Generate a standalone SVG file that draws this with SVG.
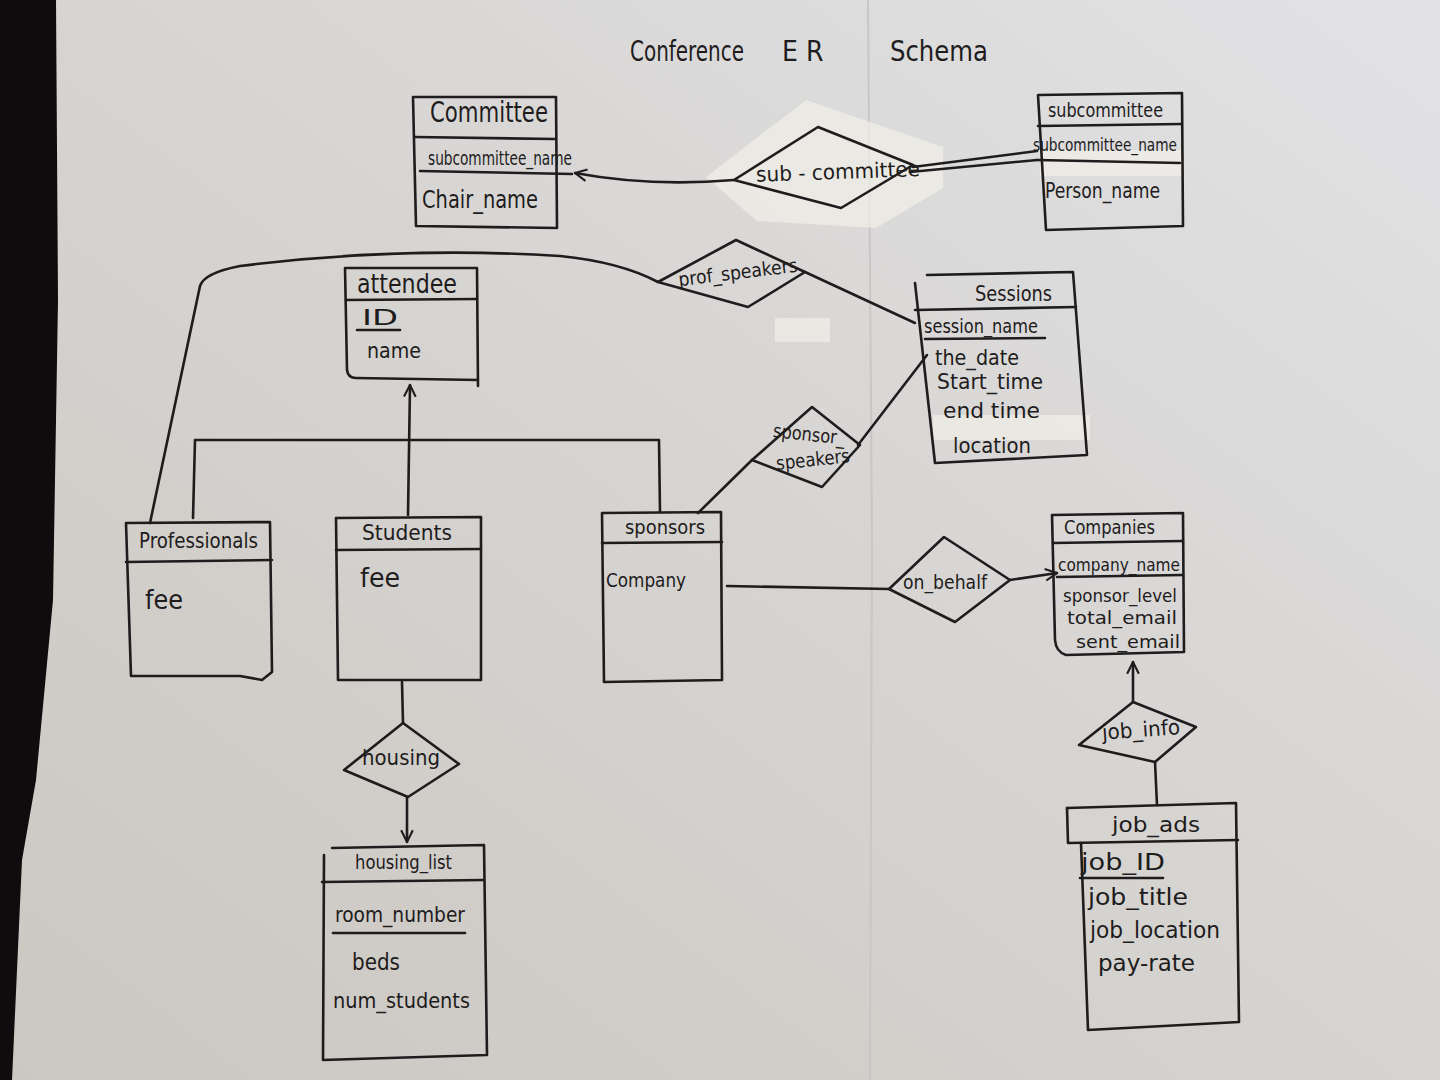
<svg xmlns="http://www.w3.org/2000/svg" width="1440" height="1080" viewBox="0 0 1440 1080">
<defs>
<linearGradient id="paper" x1="0" y1="1" x2="1" y2="0">
<stop offset="0" stop-color="#cbc7c1"/>
<stop offset="0.5" stop-color="#d6d4d1"/>
<stop offset="1" stop-color="#e2e2e5"/>
</linearGradient>
<marker id="open" viewBox="0 0 12 12" refX="11" refY="6" markerWidth="14" markerHeight="14" markerUnits="userSpaceOnUse" orient="auto">
<path d="M1,1 L11,6 L1,11" fill="none" stroke="#1e1c1c" stroke-width="1.8"/>
</marker>
<style>
.ink{fill:none;stroke:#1e1c1c;stroke-width:2.6;stroke-linecap:round;stroke-linejoin:round}
.t{font-family:"Liberation Sans Narrow","DejaVu Sans Condensed","Liberation Sans",sans-serif;fill:#1e1c1c}
.tape{fill:#f3f1ea;opacity:0.65}
</style>
</defs>
<rect width="1440" height="1080" fill="url(#paper)"/>
<path d="M868,0 L872,540 L870,1080" stroke="#c9c7c5" stroke-width="2" fill="none"/>
<path d="M0,0 L56,0 L58,300 L53,600 L36,780 L22,860 L12,1080 L0,1080 Z" fill="#0e0c0c"/>

<g id="title">
<text class="t" x="630" y="61" font-size="28" textLength="114" lengthAdjust="spacingAndGlyphs">Conference</text>
<text class="t" x="782" y="61" font-size="28" letter-spacing="8">ER</text>
<text class="t" x="890" y="61" font-size="28" textLength="98" lengthAdjust="spacingAndGlyphs">Schema</text>
</g>

<g id="tapes">
<path class="tape" d="M706,177 L806,100 L943,147 L943,188 L876,228 L757,221 Z"/>
<rect class="tape" x="1040" y="150" width="142" height="26"/>
<rect class="tape" x="933" y="415" width="157" height="25"/>
<rect class="tape" x="775" y="318" width="55" height="24" opacity="0.5"/>
</g>

<g id="connectors">
<path class="ink" d="M734,180 Q650,187 575,173" marker-end="url(#open)"/>
<path class="ink" d="M913,167 L1037,151"/>
<path class="ink" d="M910,172 L1037,160"/>
<path class="ink" d="M150,523 L200,286 Q204,273 240,266 Q400,246 560,256 Q620,262 658,282"/>
<path class="ink" d="M805,272 L915,323"/>
<path class="ink" d="M193,518 L195,440 L659,440 L660,512"/>
<path class="ink" d="M408,515 L410,385" marker-end="url(#open)"/>
<path class="ink" d="M858,445 L927,355"/>
<path class="ink" d="M752,460 L698,513"/>
<path class="ink" d="M402,682 L403,723"/>
<path class="ink" d="M407,797 L407,842" marker-end="url(#open)"/>
<path class="ink" d="M727,586 L889,589"/>
<path class="ink" d="M1010,580 L1057,573" marker-end="url(#open)"/>
<path class="ink" d="M1133,702 L1133,662" marker-end="url(#open)"/>
<path class="ink" d="M1155,762 L1157,805"/>
</g>

<g id="committee">
<path class="ink" d="M413,97 L556,97 L557,228 L416,226 Z"/>
<path class="ink" d="M415,137 L555,139"/>
<path class="ink" d="M420,171 L572,174"/>
<text class="t" x="430" y="122" font-size="28" textLength="118" lengthAdjust="spacingAndGlyphs">Committee</text>
<text class="t" x="428" y="165" font-size="19" textLength="144" lengthAdjust="spacingAndGlyphs">subcommittee_name</text>
<text class="t" x="422" y="208" font-size="24" textLength="116" lengthAdjust="spacingAndGlyphs">Chair_name</text>
</g>

<g id="rel-sub-committee">
<path class="ink" d="M734,180 L818,127 L913,165 L841,208 Z"/>
<text class="t" x="756" y="179" font-size="21" textLength="164" lengthAdjust="spacingAndGlyphs" transform="rotate(-2 838 172)">sub - committee</text>
</g>

<g id="subcommittee">
<path class="ink" d="M1038,95 L1182,93 L1183,226 L1046,230 Z"/>
<path class="ink" d="M1038,126 L1181,124"/>
<path class="ink" d="M1037,160 L1180,163"/>
<text class="t" x="1048" y="117" font-size="20" textLength="115" lengthAdjust="spacingAndGlyphs">subcommittee</text>
<text class="t" x="1033" y="151" font-size="17" textLength="144" lengthAdjust="spacingAndGlyphs">subcommittee_name</text>
<text class="t" x="1045" y="198" font-size="21" textLength="115" lengthAdjust="spacingAndGlyphs">Person_name</text>
</g>

<g id="rel-prof-speakers">
<path class="ink" d="M658,282 L736,240 L805,272 L748,307 Z"/>
<text class="t" x="678" y="279" font-size="19" textLength="120" lengthAdjust="spacingAndGlyphs" transform="rotate(-7 738 273)">prof_speakers</text>
</g>

<g id="attendee">
<path class="ink" d="M345,268 L477,268 L478,386 M345,268 L347,370 Q348,378 356,378 L478,380"/>
<path class="ink" d="M346,300 L477,299"/>
<path class="ink" d="M357,330 L400,330"/>
<text class="t" x="357" y="293" font-size="26" textLength="100" lengthAdjust="spacingAndGlyphs">attendee</text>
<text class="t" x="362" y="325" font-size="22" textLength="36" lengthAdjust="spacingAndGlyphs">ID</text>
<text class="t" x="367" y="358" font-size="22" textLength="54" lengthAdjust="spacingAndGlyphs">name</text>
</g>

<g id="sessions">
<path class="ink" d="M927,275 L1073,272 L1087,455 L935,463 L915,283"/>
<path class="ink" d="M915,310 L1076,307"/>
<path class="ink" d="M925,339 L1045,338"/>
<text class="t" x="975" y="301" font-size="22" textLength="77" lengthAdjust="spacingAndGlyphs">Sessions</text>
<text class="t" x="924" y="333" font-size="19" textLength="114" lengthAdjust="spacingAndGlyphs">session_name</text>
<text class="t" x="935" y="365" font-size="21" textLength="84" lengthAdjust="spacingAndGlyphs">the_date</text>
<text class="t" x="937" y="389" font-size="21" textLength="106" lengthAdjust="spacingAndGlyphs">Start_time</text>
<text class="t" x="943" y="418" font-size="21" textLength="97" lengthAdjust="spacingAndGlyphs">end time</text>
<text class="t" x="953" y="453" font-size="21" textLength="78" lengthAdjust="spacingAndGlyphs">location</text>
</g>

<g id="rel-sponsor-speakers">
<path class="ink" d="M752,460 L812,407 L860,445 L822,487 Z"/>
<text class="t" x="773" y="441" font-size="19" textLength="72" lengthAdjust="spacingAndGlyphs" transform="rotate(6 810 435)">sponsor_</text>
<text class="t" x="776" y="466" font-size="19" textLength="74" lengthAdjust="spacingAndGlyphs" transform="rotate(-6 814 460)">speakers</text>
</g>

<g id="professionals">
<path class="ink" d="M126,523 L270,522 L272,672 L262,680 L240,676 L131,676 Z"/>
<path class="ink" d="M126,562 L272,560"/>
<text class="t" x="139" y="548" font-size="21" textLength="119" lengthAdjust="spacingAndGlyphs">Professionals</text>
<text class="t" x="145" y="609" font-size="26" textLength="38" lengthAdjust="spacingAndGlyphs">fee</text>
</g>

<g id="students">
<path class="ink" d="M336,518 L481,517 L481,680 L338,680 Z"/>
<path class="ink" d="M336,550 L481,549"/>
<text class="t" x="362" y="540" font-size="22" textLength="90" lengthAdjust="spacingAndGlyphs">Students</text>
<text class="t" x="360" y="587" font-size="26" textLength="40" lengthAdjust="spacingAndGlyphs">fee</text>
</g>

<g id="sponsors">
<path class="ink" d="M602,513 L721,512 L722,680 L604,682 Z"/>
<path class="ink" d="M602,543 L722,542"/>
<text class="t" x="625" y="534" font-size="20" textLength="80" lengthAdjust="spacingAndGlyphs">sponsors</text>
<text class="t" x="606" y="587" font-size="20" textLength="80" lengthAdjust="spacingAndGlyphs">Company</text>
</g>

<g id="rel-on-behalf">
<path class="ink" d="M889,589 L944,537 L1010,580 L955,622 Z"/>
<text class="t" x="903" y="589" font-size="19" textLength="84" lengthAdjust="spacingAndGlyphs">on_behalf</text>
</g>

<g id="companies">
<path class="ink" d="M1052,515 L1183,513 L1184,652 L1066,655 Q1056,652 1055,640 Z"/>
<path class="ink" d="M1053,543 L1183,541"/>
<path class="ink" d="M1057,577 L1183,575"/>
<text class="t" x="1064" y="534" font-size="20" textLength="91" lengthAdjust="spacingAndGlyphs">Companies</text>
<text class="t" x="1058" y="571" font-size="17" textLength="122" lengthAdjust="spacingAndGlyphs">company_name</text>
<text class="t" x="1063" y="602" font-size="17" textLength="114" lengthAdjust="spacingAndGlyphs">sponsor_level</text>
<text class="t" x="1067" y="624" font-size="17" textLength="110" lengthAdjust="spacingAndGlyphs">total_email</text>
<text class="t" x="1076" y="648" font-size="17" textLength="104" lengthAdjust="spacingAndGlyphs">sent_email</text>
</g>

<g id="rel-job-info">
<path class="ink" d="M1079,745 L1133,702 L1196,727 L1155,762 Z"/>
<text class="t" x="1102" y="737" font-size="21" textLength="78" lengthAdjust="spacingAndGlyphs" transform="rotate(-4 1140 730)">job_info</text>
</g>

<g id="job-ads">
<path class="ink" d="M1067,808 L1236,803 L1239,1022 L1088,1030 L1081,843"/>
<path class="ink" d="M1067,808 L1068,843 L1238,840"/>
<path class="ink" d="M1080,878 L1163,878"/>
<text class="t" x="1112" y="832" font-size="22" textLength="88" lengthAdjust="spacingAndGlyphs">job_ads</text>
<text class="t" x="1081" y="870" font-size="23" textLength="84" lengthAdjust="spacingAndGlyphs">job_ID</text>
<text class="t" x="1088" y="905" font-size="23" textLength="100" lengthAdjust="spacingAndGlyphs">job_title</text>
<text class="t" x="1090" y="938" font-size="23" textLength="130" lengthAdjust="spacingAndGlyphs">job_location</text>
<text class="t" x="1098" y="971" font-size="23" textLength="97" lengthAdjust="spacingAndGlyphs">pay-rate</text>
</g>

<g id="rel-housing">
<path class="ink" d="M344,770 L403,723 L459,764 L408,797 Z"/>
<text class="t" x="362" y="765" font-size="21" textLength="78" lengthAdjust="spacingAndGlyphs">housing</text>
</g>

<g id="housing-list">
<path class="ink" d="M332,848 L484,845 L487,1055 L323,1060 L324,855"/>
<path class="ink" d="M322,882 L484,880"/>
<path class="ink" d="M333,933 L465,933"/>
<text class="t" x="355" y="869" font-size="19" textLength="97" lengthAdjust="spacingAndGlyphs">housing_list</text>
<text class="t" x="335" y="922" font-size="21" textLength="130" lengthAdjust="spacingAndGlyphs">room_number</text>
<text class="t" x="352" y="970" font-size="23" textLength="48" lengthAdjust="spacingAndGlyphs">beds</text>
<text class="t" x="333" y="1008" font-size="21" textLength="137" lengthAdjust="spacingAndGlyphs">num_students</text>
</g>
</svg>
